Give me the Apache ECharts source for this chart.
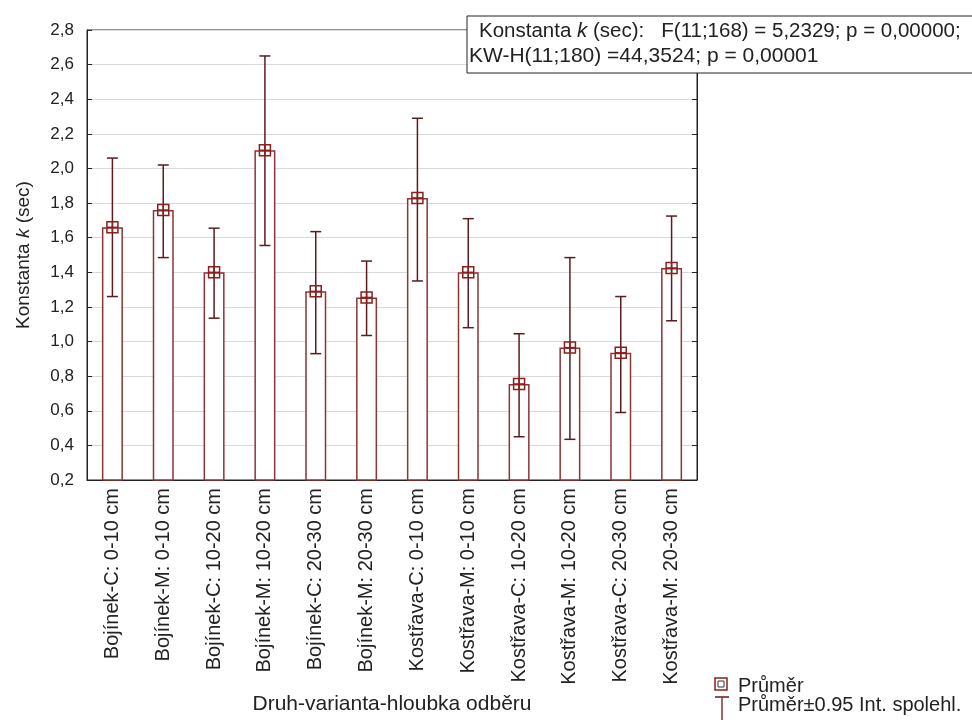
<!DOCTYPE html>
<html><head><meta charset="utf-8">
<script src="https://cdn.jsdelivr.net/npm/echarts@6/dist/echarts.min.js"></script>
<style>html,body{margin:0;padding:0;background:#fff}#c{width:972px;height:720px}</style>
</head><body><div id="c"></div>
<script>
const categories = [
  "Bojínek-C: 0-10 cm", "Bojínek-M: 0-10 cm", "Bojínek-C: 10-20 cm", "Bojínek-M: 10-20 cm",
  "Bojínek-C: 20-30 cm", "Bojínek-M: 20-30 cm", "Kostřava-C: 0-10 cm", "Kostřava-M: 0-10 cm",
  "Kostřava-C: 10-20 cm", "Kostřava-M: 10-20 cm", "Kostřava-C: 20-30 cm", "Kostřava-M: 20-30 cm"
];
const means = [1.66, 1.76, 1.40, 2.105, 1.29, 1.255, 1.83, 1.40, 0.755, 0.965, 0.935, 1.425];
const upper = [2.06, 2.02, 1.655, 2.65, 1.635, 1.465, 2.29, 1.71, 1.045, 1.485, 1.26, 1.725];
const lower = [1.26, 1.485, 1.135, 1.555, 0.93, 1.035, 1.35, 1.08, 0.45, 0.435, 0.59, 1.12];
const yTicks = { min: 0.2, max: 2.8, step: 0.2 };

const FONT = "'Liberation Sans', Arial, sans-serif";
const TXT = '#222';
const BAR = '#8b3535';
const ERR = '#5a1c1c';
const MK = '#8b1f1f';

const chart = echarts.init(document.getElementById('c'), null, { renderer: 'canvas' });

const fmt = v => v.toFixed(1).replace('.', ',');

const option = {
  animation: false,
  backgroundColor: '#fff',
  grid: { left: 87, right: 275, top: 30, bottom: 240, show: true, borderColor: '#222', borderWidth: 1, backgroundColor: 'transparent', outerBoundsMode: 'none', containLabel: false },
  xAxis: {
    type: 'category', data: categories,
    axisLine: { lineStyle: { color: '#222', width: 1 } },
    axisTick: { inside: true, alignWithLabel: true, length: 3, lineStyle: { color: '#222' } },
    axisLabel: { rotate: 90, margin: 8, fontSize: 20, color: TXT, fontFamily: FONT, interval: 0 },
    name: 'Druh-varianta-hloubka odběru', nameLocation: 'middle', nameGap: 214,
    nameTextStyle: { fontSize: 21, color: TXT, fontFamily: FONT }
  },
  yAxis: [{
    type: 'value', min: yTicks.min, max: yTicks.max, interval: yTicks.step,
    axisLine: { show: true, lineStyle: { color: '#222' } },
    axisTick: { show: true, inside: true, length: 5, lineStyle: { color: '#222' } },
    axisLabel: { formatter: fmt, fontSize: 17, color: TXT, fontFamily: FONT, margin: 13 },
    splitLine: { show: true, lineStyle: { color: '#d9d9d9', width: 1 } },
    name: 'Konstanta {i|k} (sec)', nameLocation: 'middle', nameGap: 54, nameRotate: 90,
    nameTextStyle: { fontSize: 19, color: TXT, fontFamily: FONT, rich: { i: { fontStyle: 'italic', fontSize: 19, color: TXT, fontFamily: FONT } } }
  }, {
    type: 'value', position: 'right', min: yTicks.min, max: yTicks.max, interval: yTicks.step,
    axisLine: { show: true, lineStyle: { color: '#222' } },
    axisTick: { show: true, inside: true, length: 5, lineStyle: { color: '#222' } },
    axisLabel: { show: false }, splitLine: { show: false }
  }],
  series: [
    {
      type: 'bar', data: means, barWidth: 21, yAxisIndex: 0, z: 2,
      itemStyle: { color: '#fff', borderColor: BAR, borderWidth: 1.5 },
      silent: true
    },
    {
      type: 'custom', yAxisIndex: 0, silent: true, z: 5,
      data: categories.map((c, i) => [i, lower[i], upper[i]]),
      encode: { x: 0, y: [1, 2] },
      renderItem: function (params, api) {
        const x = api.value(0);
        const pHi = api.coord([x, api.value(2)]);
        const pLo = api.coord([x, api.value(1)]);
        const h = 5.5;
        const st = { stroke: ERR, lineWidth: 1.5 };
        return {
          type: 'group', children: [
            { type: 'line', shape: { x1: pHi[0], y1: pHi[1], x2: pLo[0], y2: pLo[1] }, style: st },
            { type: 'line', shape: { x1: pHi[0] - h, y1: pHi[1], x2: pHi[0] + h, y2: pHi[1] }, style: st },
            { type: 'line', shape: { x1: pLo[0] - h, y1: pLo[1], x2: pLo[0] + h, y2: pLo[1] }, style: st }
          ]
        };
      }
    },
    {
      type: 'custom', yAxisIndex: 0, silent: true, z: 6,
      data: categories.map((c, i) => [i, means[i]]),
      encode: { x: 0, y: 1 },
      renderItem: function (params, api) {
        const p = api.coord([api.value(0), api.value(1)]);
        const s = 5.5;
        const st = { stroke: MK, lineWidth: 1.5, fill: 'none' };
        return {
          type: 'group', children: [
            { type: 'rect', shape: { x: p[0] - s, y: p[1] - s, width: 2 * s, height: 2 * s }, style: { stroke: MK, lineWidth: 1.5, fill: 'rgba(0,0,0,0)' } },
            { type: 'line', shape: { x1: p[0] - s, y1: p[1], x2: p[0] + s, y2: p[1] }, style: st },
            { type: 'line', shape: { x1: p[0], y1: p[1] - s, x2: p[0], y2: p[1] + s }, style: st }
          ]
        };
      }
    }
  ],
  graphic: [
    { type: 'rect', shape: { x: 467, y: 16, width: 520, height: 57 }, style: { fill: '#fff', stroke: '#222', lineWidth: 1 }, z: 100 },
    { type: 'text', x: 479, y: 21, z: 101, style: { text: 'Konstanta {i|k} (sec):   F(11;168) = 5,2329; p = 0,00000;', fontSize: 20.5, fontFamily: FONT, fill: TXT, rich: { i: { fontStyle: 'italic', fontSize: 20.5, fontFamily: FONT, fill: TXT } } } },
    { type: 'text', x: 469, y: 46, z: 101, style: { text: 'KW-H(11;180) =44,3524; p = 0,00001', fontSize: 21, fontFamily: FONT, fill: TXT } },
    // legend
    { type: 'rect', shape: { x: 715, y: 678, width: 12, height: 12 }, style: { fill: '#fff', stroke: MK, lineWidth: 1.5 }, z: 100 },
    { type: 'rect', shape: { x: 718, y: 681, width: 6, height: 6 }, style: { fill: 'none', stroke: '#333', lineWidth: 1 }, z: 101 },
    { type: 'text', x: 738, y: 676, z: 101, style: { text: 'Průměr', fontSize: 20, fontFamily: FONT, fill: TXT } },
    { type: 'line', shape: { x1: 715, y1: 697, x2: 729, y2: 697 }, style: { stroke: ERR, lineWidth: 1.5 }, z: 100 },
    { type: 'line', shape: { x1: 722, y1: 697, x2: 722, y2: 720 }, style: { stroke: BAR, lineWidth: 1.5 }, z: 100 },
    { type: 'text', x: 738, y: 695, z: 101, style: { text: 'Průměr±0.95 Int. spolehl.', fontSize: 20, fontFamily: FONT, fill: TXT } }
  ]
};
chart.setOption(option);
</script>
</body></html>
